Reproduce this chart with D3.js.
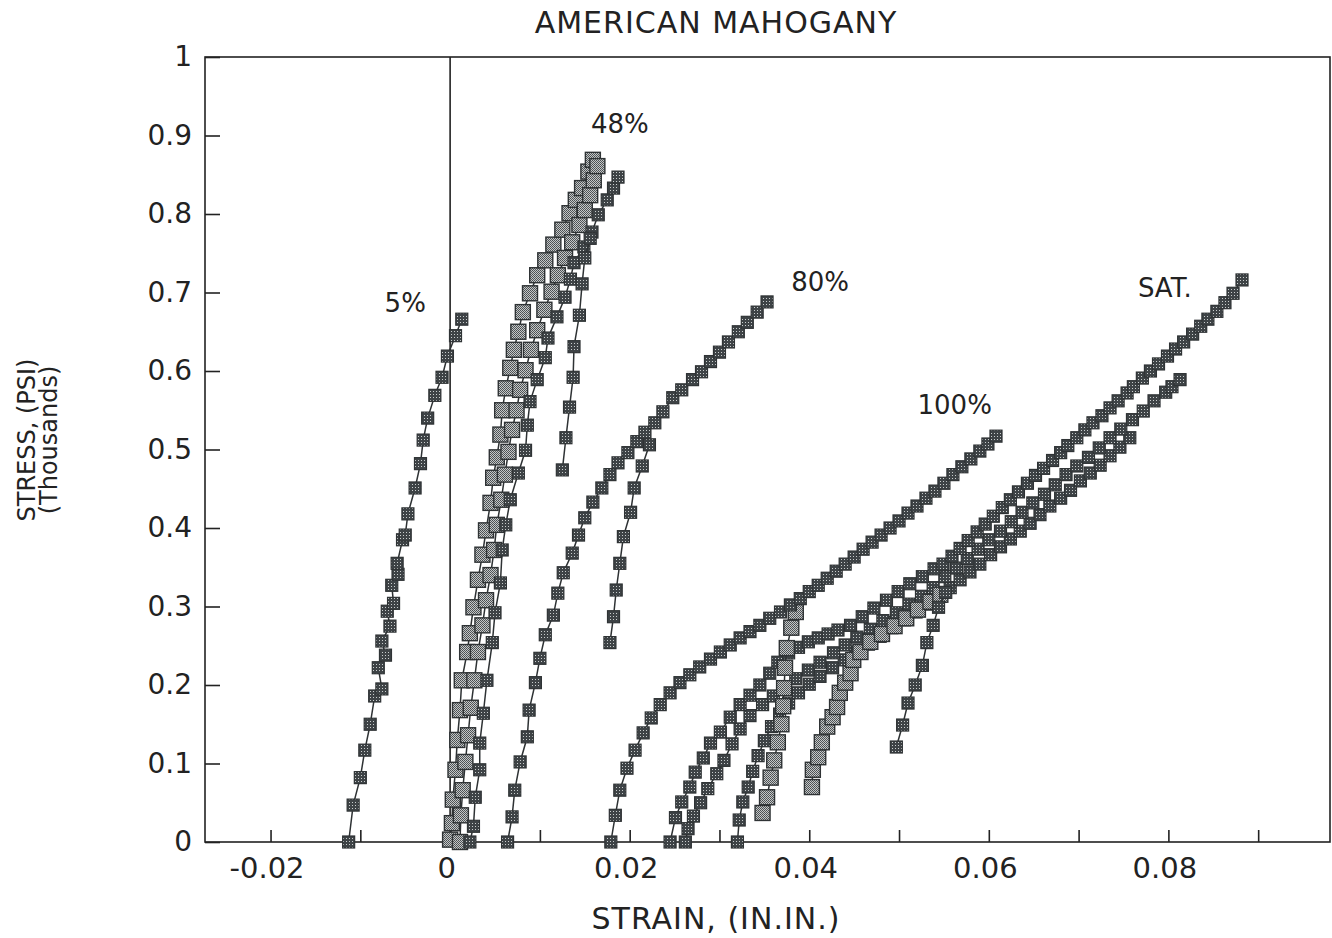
<!DOCTYPE html>
<html>
<head>
<meta charset="utf-8">
<script src="https://cdn.jsdelivr.net/npm/d3@7"></script>
<style>
  body { margin: 0; background: #fff; }
  svg { display: block; }
  text { font-family: "DejaVu Sans", sans-serif; fill: #222; }
</style>
</head>
<body>
<div id="chart"></div>
<script>
// stress (thousands psi) vs strain (in/in)
// each curve is a list of [strain, stress]

const mc5 = [[-0.0113,0],[-0.0108,0.047],[-0.0100,0.082],[-0.0095,0.117],[-0.0089,0.150],[-0.0084,0.186],[-0.0076,0.195],[-0.0080,0.222],[-0.0072,0.238],[-0.0076,0.256],[-0.0067,0.275],[-0.0070,0.294],[-0.0063,0.304],[-0.0065,0.327],[-0.0058,0.341],[-0.0059,0.355],[-0.0053,0.385],[-0.0050,0.391],[-0.0047,0.418],[-0.0039,0.451],[-0.0033,0.482],[-0.0030,0.512],[-0.0025,0.540],[-0.0017,0.569],[-0.0009,0.592],[-0.0003,0.619],[0.0006,0.645],[0.0013,0.666]];

const mc48a = [[0.0000,0.003],[0.0002,0.024],[0.0003,0.054],[0.0006,0.092],[0.0008,0.130],[0.0011,0.168],[0.0013,0.206],[0.0019,0.242],[0.0022,0.266],[0.0026,0.299],[0.0031,0.334],[0.0036,0.366],[0.0040,0.397],[0.0045,0.432],[0.0048,0.464],[0.0052,0.490],[0.0056,0.519],[0.0058,0.550],[0.0062,0.578],[0.0067,0.604],[0.0071,0.627],[0.0076,0.650],[0.0081,0.675],[0.0089,0.699],[0.0097,0.722],[0.0106,0.741],[0.0115,0.761],[0.0125,0.780],[0.0133,0.801],[0.0140,0.818],[0.0147,0.833],[0.0154,0.854],[0.0159,0.869]];

const mc48b = [[0.0011,0],[0.0012,0.034],[0.0014,0.066],[0.0017,0.102],[0.0020,0.136],[0.0023,0.171],[0.0027,0.206],[0.0031,0.242],[0.0036,0.276],[0.0040,0.308],[0.0045,0.340],[0.0049,0.372],[0.0052,0.404],[0.0057,0.436],[0.0061,0.468],[0.0065,0.497],[0.0069,0.525],[0.0074,0.550],[0.0078,0.576],[0.0084,0.601],[0.0090,0.627],[0.0097,0.652],[0.0105,0.678],[0.0113,0.701],[0.0120,0.722],[0.0128,0.744],[0.0136,0.764],[0.0144,0.786],[0.0150,0.805],[0.0156,0.824],[0.0160,0.843],[0.0164,0.861]];

const mc48c = [[0.0022,0],[0.0026,0.020],[0.0028,0.057],[0.0033,0.092],[0.0033,0.126],[0.0037,0.164],[0.0041,0.206],[0.0047,0.254],[0.0050,0.292],[0.0056,0.330],[0.0058,0.372],[0.0062,0.404],[0.0067,0.436],[0.0076,0.470],[0.0084,0.499],[0.0086,0.531],[0.0089,0.561],[0.0097,0.589],[0.0106,0.617],[0.0109,0.642],[0.0119,0.669],[0.0128,0.694],[0.0134,0.717],[0.0138,0.738],[0.0149,0.758],[0.0158,0.777],[0.0165,0.799],[0.0175,0.818],[0.0182,0.833],[0.0187,0.847]];

const mc48d = [[0.0125,0.474],[0.0129,0.515],[0.0133,0.554],[0.0137,0.592],[0.0138,0.631],[0.0144,0.671],[0.0147,0.711],[0.0150,0.744],[0.0156,0.769]];

const mc80a = [[0.0064,0],[0.0069,0.032],[0.0072,0.066],[0.0078,0.102],[0.0086,0.134],[0.0088,0.168],[0.0095,0.203],[0.0100,0.234],[0.0106,0.264],[0.0115,0.289],[0.0120,0.317],[0.0126,0.343],[0.0136,0.368],[0.0143,0.391],[0.0150,0.413],[0.0159,0.433],[0.0169,0.451],[0.0178,0.468],[0.0187,0.483],[0.0198,0.496],[0.0208,0.510],[0.0217,0.522],[0.0228,0.534],[0.0237,0.548],[0.0248,0.566],[0.0258,0.576],[0.0270,0.589],[0.0280,0.599],[0.0290,0.612],[0.0300,0.624],[0.0310,0.637],[0.0321,0.650],[0.0331,0.662],[0.0342,0.675],[0.0353,0.688]];

const mc80b = [[0.0178,0.254],[0.0182,0.287],[0.0185,0.321],[0.0189,0.355],[0.0193,0.389],[0.0201,0.420],[0.0205,0.451],[0.0214,0.479],[0.0222,0.506]];

const mc100a = [[0.0179,0],[0.0184,0.034],[0.0189,0.066],[0.0197,0.094],[0.0206,0.117],[0.0215,0.139],[0.0224,0.158],[0.0234,0.175],[0.0245,0.190],[0.0256,0.203],[0.0267,0.213],[0.0278,0.223],[0.0290,0.233],[0.0301,0.242],[0.0312,0.251],[0.0323,0.260],[0.0334,0.268],[0.0345,0.276],[0.0356,0.285],[0.0368,0.293],[0.0379,0.302],[0.0390,0.310],[0.0400,0.319],[0.0410,0.327],[0.0420,0.336],[0.0430,0.345],[0.0440,0.354],[0.0450,0.363],[0.0460,0.373],[0.0470,0.382],[0.0480,0.391],[0.0490,0.400],[0.0500,0.409],[0.0510,0.419],[0.0520,0.428],[0.0530,0.438],[0.0540,0.447],[0.0550,0.457],[0.0560,0.468],[0.0570,0.478],[0.0580,0.488],[0.0590,0.498],[0.0599,0.507],[0.0608,0.517]];

const mc100b = [[0.0348,0.037],[0.0353,0.057],[0.0357,0.082],[0.0361,0.104],[0.0365,0.127],[0.0369,0.150],[0.0371,0.173],[0.0372,0.196],[0.0373,0.222],[0.0375,0.247],[0.0380,0.273],[0.0385,0.293]];

const satA = [[0.0245,0],[0.0251,0.031],[0.0258,0.051],[0.0267,0.070],[0.0273,0.089],[0.0282,0.107],[0.0290,0.126],[0.0301,0.140],[0.0312,0.159],[0.0323,0.175],[0.0334,0.187],[0.0345,0.200],[0.0356,0.215],[0.0365,0.229],[0.0377,0.241],[0.0388,0.248],[0.0399,0.255],[0.0410,0.260],[0.0421,0.265],[0.0432,0.270],[0.0446,0.276],[0.0459,0.287],[0.0472,0.298],[0.0486,0.308],[0.0499,0.319],[0.0512,0.329],[0.0526,0.338],[0.0539,0.348],[0.0549,0.354],[0.0559,0.364],[0.0568,0.374],[0.0577,0.384],[0.0587,0.395],[0.0596,0.405],[0.0605,0.415],[0.0615,0.426],[0.0624,0.436],[0.0633,0.446],[0.0643,0.457],[0.0652,0.467],[0.0661,0.476],[0.0671,0.486],[0.0680,0.496],[0.0688,0.505],[0.0698,0.515],[0.0707,0.525],[0.0716,0.534],[0.0726,0.543],[0.0735,0.553],[0.0744,0.562],[0.0754,0.572],[0.0761,0.580],[0.0771,0.591],[0.0780,0.600],[0.0789,0.609],[0.0799,0.619],[0.0808,0.628],[0.0817,0.637],[0.0827,0.647],[0.0836,0.657],[0.0844,0.666],[0.0854,0.676],[0.0863,0.687],[0.0872,0.699],[0.0882,0.716]];

const satB = [[0.0262,0],[0.0265,0.017],[0.0271,0.033],[0.0279,0.050],[0.0287,0.068],[0.0297,0.087],[0.0305,0.104],[0.0314,0.125],[0.0323,0.144],[0.0334,0.161],[0.0348,0.175],[0.0360,0.186],[0.0372,0.196],[0.0385,0.208],[0.0399,0.219],[0.0412,0.229],[0.0427,0.241],[0.0440,0.251],[0.0453,0.261],[0.0468,0.271],[0.0482,0.282],[0.0497,0.292],[0.0511,0.303],[0.0525,0.313],[0.0538,0.324],[0.0551,0.338],[0.0564,0.349],[0.0576,0.361],[0.0588,0.373],[0.0600,0.385],[0.0613,0.396],[0.0625,0.408],[0.0637,0.420],[0.0649,0.432],[0.0662,0.443],[0.0674,0.455],[0.0686,0.468],[0.0698,0.479],[0.0711,0.490],[0.0723,0.502],[0.0735,0.515],[0.0747,0.526],[0.0760,0.538],[0.0772,0.549],[0.0784,0.562],[0.0797,0.573],[0.0804,0.580],[0.0813,0.589]];

const satC = [[0.0320,0],[0.0322,0.028],[0.0326,0.051],[0.0332,0.070],[0.0337,0.090],[0.0343,0.110],[0.0350,0.129],[0.0358,0.147],[0.0367,0.163],[0.0377,0.177],[0.0388,0.190],[0.0400,0.201],[0.0412,0.211],[0.0426,0.222],[0.0439,0.232],[0.0452,0.242],[0.0466,0.252],[0.0479,0.262],[0.0492,0.273],[0.0506,0.283],[0.0519,0.293],[0.0532,0.303],[0.0546,0.313],[0.0557,0.324],[0.0568,0.334],[0.0579,0.344],[0.0590,0.354],[0.0602,0.366],[0.0613,0.376],[0.0624,0.386],[0.0635,0.396],[0.0646,0.406],[0.0657,0.417],[0.0668,0.428],[0.0680,0.438],[0.0691,0.448],[0.0702,0.460],[0.0713,0.470],[0.0724,0.480],[0.0735,0.492],[0.0746,0.503],[0.0757,0.515]];

const satD = [[0.0403,0.070],[0.0404,0.092],[0.0410,0.108],[0.0414,0.127],[0.0420,0.147],[0.0426,0.159],[0.0431,0.172],[0.0434,0.190],[0.0440,0.203],[0.0446,0.215],[0.0449,0.232],[0.0457,0.242],[0.0468,0.255],[0.0481,0.265],[0.0495,0.275],[0.0508,0.285],[0.0521,0.296],[0.0535,0.306],[0.0546,0.315]];

const satE = [[0.0497,0.121],[0.0504,0.149],[0.0510,0.177],[0.0518,0.200],[0.0526,0.225],[0.0531,0.254],[0.0538,0.276],[0.0544,0.299],[0.0552,0.318]];

const xTicks = [-0.02,-0.01,0,0.01,0.02,0.03,0.04,0.05,0.06,0.07,0.08,0.09];
const xLabels = [-0.02,0,0.02,0.04,0.06,0.08];
const yTicks = [0,0.1,0.2,0.3,0.4,0.5,0.6,0.7,0.8,0.9,1];

const curveNames = ["5%","48%","80%","100%","SAT."];
const nameAt = [[-0.0050,0.675],[0.0189,0.903],[0.0412,0.702],[0.0562,0.545],[0.0796,0.694]];

// light = the big pale squares, dark = small dark ones
const curves = [
  {pts: mc5, kind: "dark"},
  {pts: mc48a, kind: "light"},
  {pts: mc48b, kind: "light"},
  {pts: mc48c, kind: "dark"},
  {pts: mc48d, kind: "dark"},
  {pts: mc80a, kind: "dark"},
  {pts: mc80b, kind: "dark"},
  {pts: satC, kind: "dark"},
  {pts: satB, kind: "dark"},
  {pts: satA, kind: "dark"},
  {pts: satD, kind: "light"},
  {pts: satE, kind: "dark"},
  {pts: mc100b, kind: "light"},
  {pts: mc100a, kind: "dark"}
];

const width = 1332, height = 938;
const margin = {top: 57, right: 2, bottom: 96, left: 205};
const midX = 716; // the printed titles sit a little left of the frame centre

const svg = d3.select("#chart").append("svg")
    .attr("width", width)
    .attr("height", height);

const x = d3.scaleLinear().domain([-0.0273, 0.098]).range([margin.left, width - margin.right]);
const y = d3.scaleLinear().domain([0, 1]).range([height - margin.bottom, margin.top]);

// marker fills: speckled squares like the old plotter output
const defs = svg.append("defs");
const pd = defs.append("pattern").attr("id", "pdark")
    .attr("patternUnits", "userSpaceOnUse").attr("width", 3).attr("height", 3);
pd.append("rect").attr("width", 3).attr("height", 3).attr("fill", "#3e4346");
pd.append("rect").attr("x", 1).attr("y", 1).attr("width", 1).attr("height", 1).attr("fill", "#c9cdcd");

const pl = defs.append("pattern").attr("id", "plight")
    .attr("patternUnits", "userSpaceOnUse").attr("width", 2).attr("height", 2);
pl.append("rect").attr("width", 2).attr("height", 2).attr("fill", "#c4c7c7");
pl.append("rect").attr("width", 1).attr("height", 1).attr("fill", "#4a4e51");
pl.append("rect").attr("x", 1).attr("y", 1).attr("width", 1).attr("height", 1).attr("fill", "#55595c");

// title
svg.append("text")
    .attr("x", midX)
    .attr("y", 33)
    .attr("text-anchor", "middle")
    .style("font-size", "30px")
    .style("letter-spacing", "1px")
    .text("AMERICAN MAHOGANY");

// frame
svg.append("rect")
    .attr("x", margin.left).attr("y", margin.top)
    .attr("width", width - margin.right - margin.left)
    .attr("height", height - margin.bottom - margin.top)
    .attr("fill", "none").attr("stroke", "#222").attr("stroke-width", 1.6);

// x axis: inward ticks, labels every other tick
const gx = svg.append("g").attr("transform", `translate(0,${y(0)})`);
gx.call(d3.axisBottom(x).tickValues(xTicks).tickSize(-12).tickFormat(""));
gx.append("g").call(d3.axisBottom(x).tickValues(xLabels).tickSize(0).tickPadding(15)
    .tickFormat(d => d === 0 ? "0" : d.toFixed(2)));
gx.selectAll(".domain").remove();
gx.selectAll("line").attr("stroke", "#222").attr("stroke-width", 1.6);
gx.selectAll("text").style("font-size", "29px").attr("fill", "#222")
    .attr("dx", "-4").style("font-family", "DejaVu Sans, sans-serif");

// y axis
const gy = svg.append("g").attr("transform", `translate(${margin.left},0)`);
gy.call(d3.axisLeft(y).tickValues(yTicks).tickSize(-15).tickPadding(13)
    .tickFormat(d => (d === 0 || d === 1) ? String(d) : d.toFixed(1)));
gy.selectAll(".domain").remove();
gy.selectAll("line").attr("stroke", "#222").attr("stroke-width", 1.6);
gy.selectAll("text").style("font-size", "28px").attr("fill", "#222")
    .style("font-family", "DejaVu Sans, sans-serif");

// zero strain line
svg.append("line")
    .attr("x1", x(0)).attr("x2", x(0))
    .attr("y1", y(1)).attr("y2", y(0))
    .attr("stroke", "#222").attr("stroke-width", 1.6);

// axis titles
svg.append("text")
    .attr("x", midX)
    .attr("y", 929)
    .attr("text-anchor", "middle")
    .style("font-size", "30px")
    .style("letter-spacing", "1px")
    .text("STRAIN, (IN.IN.)");

svg.append("text")
    .attr("transform", "translate(35,440) rotate(-90)")
    .attr("text-anchor", "middle")
    .style("font-size", "24px")
    .text("STRESS, (PSI)");
svg.append("text")
    .attr("transform", "translate(57,440) rotate(-90)")
    .attr("text-anchor", "middle")
    .style("font-size", "24px")
    .text("(Thousands)");

// curves
const line = d3.line().x(d => x(d[0])).y(d => y(d[1]));

curves.forEach(function (c) {
    const g = svg.append("g");
    const size = c.kind === "light" ? 15 : 12;
    g.append("path")
        .datum(c.pts)
        .attr("d", line)
        .attr("fill", "none")
        .attr("stroke", "#2e3234")
        .attr("stroke-width", 1.5);
    g.selectAll("rect")
        .data(c.pts)
        .join("rect")
        .attr("x", d => x(d[0]) - size / 2)
        .attr("y", d => y(d[1]) - size / 2)
        .attr("width", size)
        .attr("height", size)
        .attr("fill", c.kind === "light" ? "url(#plight)" : "url(#pdark)")
        .attr("stroke", "#2f3335")
        .attr("stroke-width", c.kind === "light" ? 1.4 : 1.2);
});

// curve labels
svg.selectAll(".cname")
    .data(curveNames)
    .join("text")
    .attr("class", "cname")
    .attr("x", (d, i) => x(nameAt[i][0]))
    .attr("y", (d, i) => y(nameAt[i][1]))
    .attr("text-anchor", "middle")
    .style("font-size", "26px")
    .text(d => d);
</script>
</body>
</html>
